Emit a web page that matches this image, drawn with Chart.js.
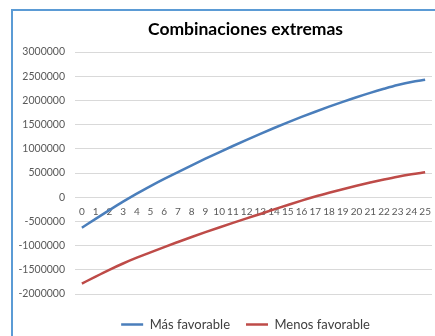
<!DOCTYPE html>
<html>
<head>
<meta charset="utf-8">
<script src="https://cdn.jsdelivr.net/npm/chart.js@4"></script>
<style>
  html, body { margin: 0; padding: 0; background: #fff; overflow: hidden; }
  #wrap { position: relative; width: 435px; height: 336px; overflow: hidden; background: #fff; }
  #frame { position: absolute; left: 11px; top: 9px; width: 600px; height: 500px; border: 2px solid #5b9bd5; box-sizing: border-box; pointer-events: none; }
  canvas { position: absolute; left: 0; top: 0; }
</style>
</head>
<body>
<div id="wrap">
  <canvas id="c" width="491" height="336"></canvas>
  <div id="frame"></div>
</div>
<script>
const categories = ["0","1","2","3","4","5","6","7","8","9","10","11","12","13","14","15","16","17","18","19","20","21","22","23","24","25"];
const masFavorable = [-630000,-448000,-268000,-92000,75000,230000,378000,520000,658000,795000,928000,1058000,1186000,1310000,1430000,1546000,1658000,1766000,1870000,1970000,2066000,2156000,2240000,2318000,2382000,2425000];
const menosFavorable = [-1785000,-1640000,-1500000,-1370000,-1250000,-1140000,-1030000,-925000,-822000,-722000,-625000,-530000,-437000,-346000,-252000,-160000,-70000,15000,92000,165000,235000,302000,365000,423000,472000,515000];
const seriesNames = ["Más favorable", "Menos favorable"];
const titleText = "Combinaciones extremas";
const yMin = -2000000, yMax = 3000000, yStep = 500000;

const FONT = "Lato, 'Open Sans', sans-serif";

new Chart(document.getElementById('c'), {
  type: 'line',
  data: {
    labels: categories,
    datasets: [
      { label: seriesNames[0], data: masFavorable, borderColor: '#4a7ebb', backgroundColor: '#4a7ebb', borderWidth: 2.5, pointRadius: 0, cubicInterpolationMode: 'monotone', fill: false },
      { label: seriesNames[1], data: menosFavorable, borderColor: '#be4b48', backgroundColor: '#be4b48', borderWidth: 2.5, pointRadius: 0, cubicInterpolationMode: 'monotone', fill: false }
    ]
  },
  options: {
    responsive: false,
    animation: false,
    layout: { padding: { left: 0, right: 0, top: 0, bottom: -5 } },
    plugins: {
      title: {
        display: true,
        text: titleText,
        color: '#000',
        font: { family: FONT, size: 17.5, weight: 'bold' },
        padding: { top: 19, bottom: 12 }
      },
      legend: {
        position: 'bottom',
        labels: {
          usePointStyle: true,
          pointStyle: 'line',
          pointStyleWidth: 22,
          color: '#404040',
          font: { family: FONT, size: 13 },
          padding: 16
        }
      },
      tooltip: { enabled: false }
    },
    scales: {
      x: {
        type: 'category',
        position: { y: 0 },
        offset: true,
        grid: { display: false, drawTicks: false },
        border: { display: false },
        ticks: { autoSkip: false, maxRotation: 0, minRotation: 0, padding: 9, color: '#595959', font: { family: FONT, size: 10 } }
      },
      xBottomSpacer: {
        type: 'category',
        position: 'bottom',
        display: true,
        offset: true,
        afterFit: (s) => { s.height = 8; },
        grid: { display: false, drawTicks: false },
        border: { display: false },
        ticks: { display: false }
      },
      y: {
        min: yMin, max: yMax,
        afterFit: (s) => { s.width = 75; },
        grid: { color: '#d9d9d9', lineWidth: 1, drawTicks: false },
        border: { display: false },
        ticks: { stepSize: yStep, padding: 10, color: '#595959', font: { family: FONT, size: 10.5 }, callback: (v) => String(v) }
      },
      yRightSpacer: {
        type: 'linear',
        position: 'right',
        display: true,
        min: yMin, max: yMax,
        afterFit: (s) => { s.width = 59; },
        grid: { display: false, drawTicks: false },
        border: { display: false },
        ticks: { display: false }
      }
    }
  }
});
</script>
</body>
</html>
